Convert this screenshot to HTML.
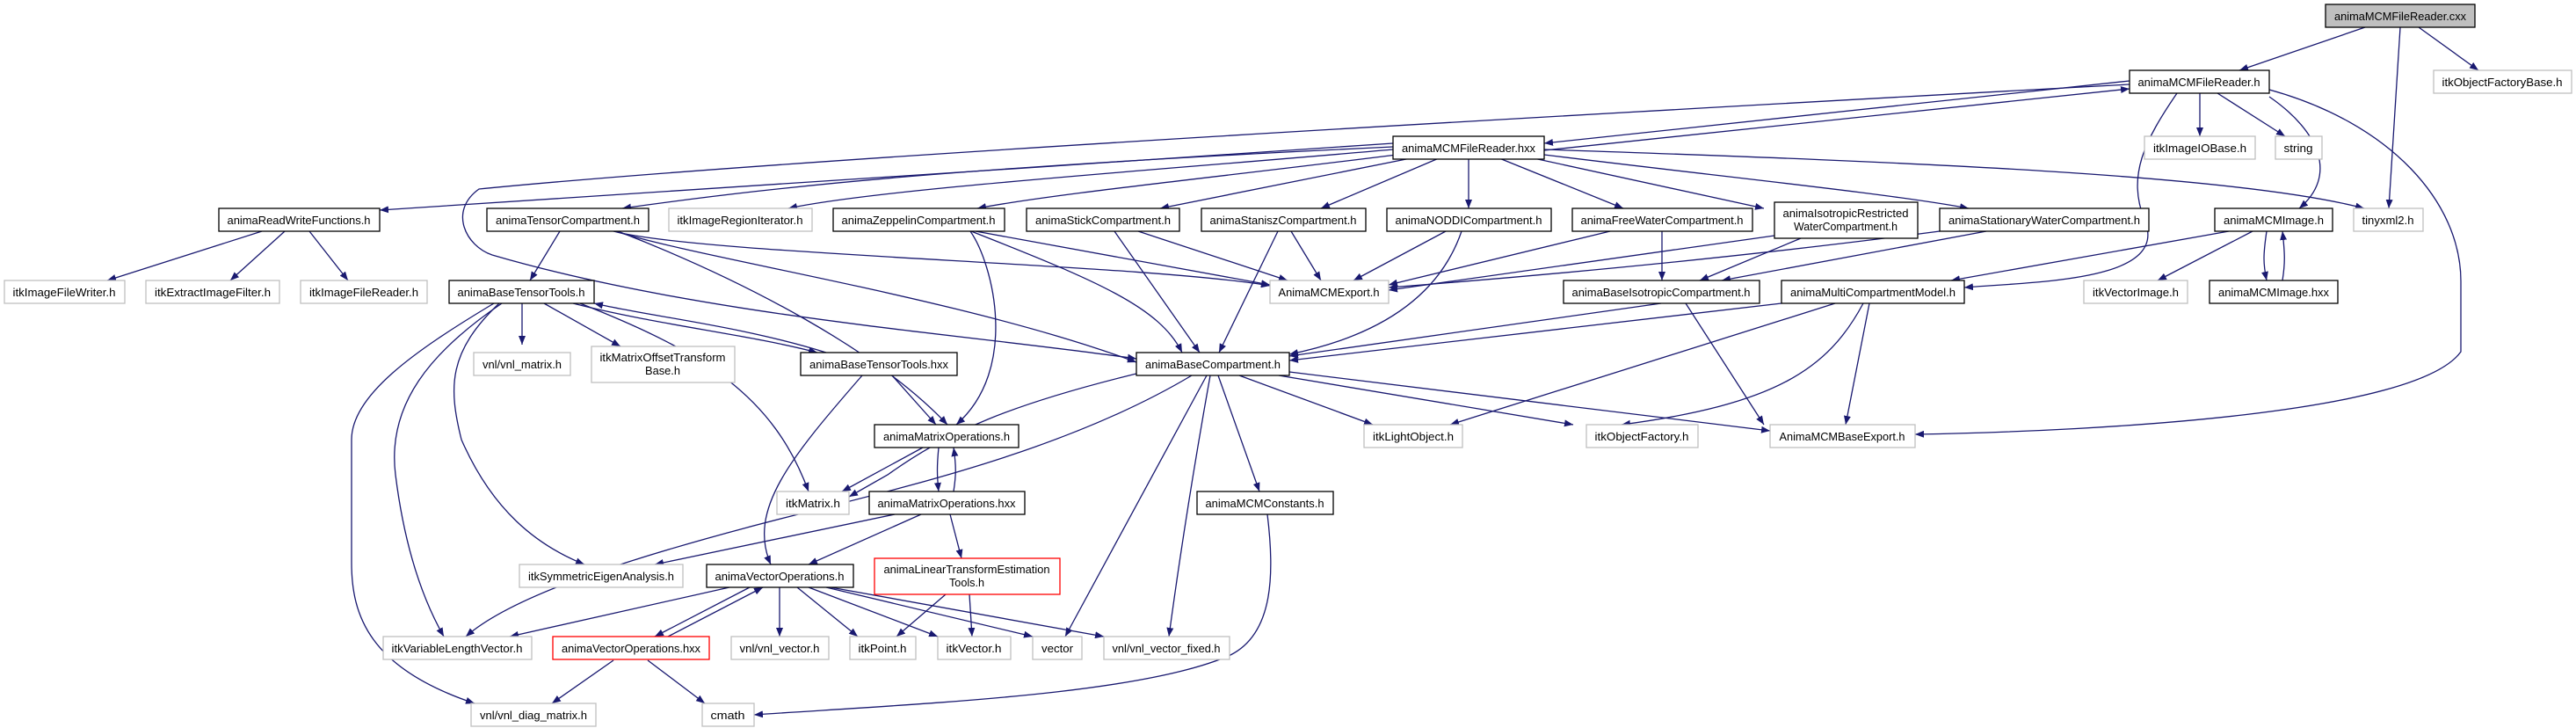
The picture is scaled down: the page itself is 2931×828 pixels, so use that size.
<!DOCTYPE html>
<html><head><meta charset="utf-8"><style>
html,body{margin:0;padding:0;background:#fff}
svg{display:block}
text{font-family:"Liberation Sans",sans-serif;font-size:13px;fill:#000}
.e{fill:none;stroke:#191970;stroke-width:1.3}
.g{fill:#fff;stroke:#bfbfbf;stroke-width:1.3}
.b{fill:#fff;stroke:#000;stroke-width:1.3}
.r{fill:#fff;stroke:#ff0000;stroke-width:1.3}
</style></head><body>
<svg width="2931" height="828" viewBox="0 0 2931 828" xmlns="http://www.w3.org/2000/svg">
<defs><marker id="a" viewBox="0 0 10 8" refX="10" refY="4" markerWidth="10" markerHeight="8" markerUnits="userSpaceOnUse" orient="auto"><path d="M0,0 L10,4 L0,8 z" fill="#191970"/></marker></defs>
<g class="e" marker-end="url(#a)">
<path d="M2691,31 L2548,80"/>
<path d="M2731,31 L2718,237"/>
<path d="M2752,31 L2820,80"/>
<path d="M2503,106 L2503,155"/>
<path d="M2523,106 L2600,155"/>
<path d="M2582,110 C2640,150 2660,200 2616,237"/>
<path d="M2582,102 C2720,140 2800,230 2800,320 L2800,400 C2750,470 2400,490 2179,494"/>
<path d="M2477,106 C2440,160 2420,200 2440,250 C2470,320 2320,320 2235,327"/>
<path d="M2423,92 L1757,163"/>
<path d="M2423,96 C1800,130 900,180 545,215 C510,240 530,280 560,290 C800,360 1100,380 1293,408"/>
<path d="M1757,171 L2423,101"/>
<path d="M1585,163 C1200,190 700,220 432,239"/>
<path d="M1585,167 C1100,190 900,210 708,237"/>
<path d="M1585,170 C1300,195 1000,215 897,237"/>
<path d="M1597,175 C1400,200 1200,220 1112,237"/>
<path d="M1605,180 L1320,237"/>
<path d="M1637,180 L1503,237"/>
<path d="M1671,180 L1671,237"/>
<path d="M1706,180 L1847,237"/>
<path d="M1745,180 L2007,237"/>
<path d="M1757,176 C1950,200 2150,220 2240,237"/>
<path d="M1757,170 C2200,185 2550,200 2690,237"/>
<path d="M298,263 L122,319"/>
<path d="M324,263 L262,319"/>
<path d="M352,263 L396,319"/>
<path d="M637,263 L603,319"/>
<path d="M698,263 C800,290 1300,300 1445,325"/>
<path d="M700,263 C800,295 1100,340 1293,412"/>
<path d="M703,263 C850,320 1000,400 1078,483"/>
<path d="M1104,263 C1130,300 1160,420 1088,483"/>
<path d="M1105,263 C1250,320 1320,350 1345,401"/>
<path d="M1110,263 L1445,324"/>
<path d="M1268,263 L1365,401"/>
<path d="M1295,263 L1465,319"/>
<path d="M1454,263 L1387,401"/>
<path d="M1469,263 L1503,319"/>
<path d="M1645,263 L1540,319"/>
<path d="M1663,263 C1640,330 1580,380 1467,403"/>
<path d="M1832,263 L1580,324"/>
<path d="M1891,263 L1891,319"/>
<path d="M2019,268 L1580,330"/>
<path d="M2049,271 L1934,319"/>
<path d="M2207,263 C2000,290 1800,310 1580,327"/>
<path d="M2260,263 L1959,319"/>
<path d="M1890,345 L1467,405"/>
<path d="M1918,345 L2007,483"/>
<path d="M2027,345 L1467,410"/>
<path d="M2088,345 L1650,483"/>
<path d="M2120,345 C2080,420 2020,460 1845,483"/>
<path d="M2127,345 L2100,483"/>
<path d="M2536,263 L2220,319"/>
<path d="M2563,263 L2455,319"/>
<path d="M2579,263 C2575,290 2575,300 2579,319"/>
<path d="M2597,319 C2600,300 2600,290 2597,263"/>
<path d="M594,345 L594,392"/>
<path d="M619,345 L706,394"/>
<path d="M652,345 C750,370 850,380 930,401"/>
<path d="M940,401 C840,370 740,360 676,345"/>
<path d="M660,345 C800,400 880,450 920,559"/>
<path d="M571,345 C490,400 440,460 450,540 C460,620 480,680 505,724"/>
<path d="M568,345 C510,400 510,440 525,500 C560,580 610,620 665,642"/>
<path d="M562,345 C470,400 400,450 400,500 L400,640 C400,700 420,760 540,800"/>
<path d="M1015,427 L1065,483"/>
<path d="M981,427 C900,520 850,580 877,642"/>
<path d="M1293,425 C1150,460 1080,490 1010,540 L966,565"/>
<path d="M1356,427 C1200,520 1000,560 850,600 C700,640 580,680 530,724"/>
<path d="M1410,427 L1562,483"/>
<path d="M1455,427 L1790,483"/>
<path d="M1467,423 L2014,490"/>
<path d="M1386,427 L1433,559"/>
<path d="M1373,427 L1212,724"/>
<path d="M1377,427 C1355,550 1340,650 1330,724"/>
<path d="M1050,509 L958,559"/>
<path d="M1068,509 C1066,530 1066,540 1068,559"/>
<path d="M1085,559 C1088,540 1088,530 1085,509"/>
<path d="M1018,585 L745,642"/>
<path d="M1048,585 L920,642"/>
<path d="M1081,585 L1094,635"/>
<path d="M830,668 L580,724"/>
<path d="M853,668 L745,724"/>
<path d="M760,724 L868,668"/>
<path d="M887,668 L887,724"/>
<path d="M907,668 L976,724"/>
<path d="M920,668 L1067,724"/>
<path d="M940,668 L1175,724"/>
<path d="M945,668 L1256,724"/>
<path d="M1076,676 L1020,724"/>
<path d="M1103,676 L1106,724"/>
<path d="M698,751 L628,800"/>
<path d="M737,751 L802,800"/>
<path d="M1442,585 C1450,650 1450,720 1400,745 C1300,790 1050,800 858,813"/>
</g>
<g>
<rect x="2646" y="5" width="170" height="26" fill="#bfbfbf" stroke="#000" stroke-width="1.3"/>
<rect class="b" x="2423" y="80" width="159" height="26"/>
<rect class="g" x="2769" y="80" width="157" height="26"/>
<rect class="g" x="2440" y="155" width="126" height="26"/>
<rect class="g" x="2589" y="155" width="53" height="26"/>
<rect class="b" x="1585" y="155" width="172" height="26"/>
<rect class="b" x="249" y="237" width="183" height="26"/>
<rect class="b" x="554" y="237" width="184" height="26"/>
<rect class="g" x="761" y="237" width="163" height="26"/>
<rect class="b" x="948" y="237" width="195" height="26"/>
<rect class="b" x="1168" y="237" width="174" height="26"/>
<rect class="b" x="1367" y="237" width="187" height="26"/>
<rect class="b" x="1578" y="237" width="187" height="26"/>
<rect class="b" x="1789" y="237" width="205" height="26"/>
<rect class="b" x="2019" y="230" width="163" height="41"/>
<rect class="b" x="2207" y="237" width="238" height="26"/>
<rect class="b" x="2520" y="237" width="134" height="26"/>
<rect class="g" x="2678" y="237" width="79" height="26"/>
<rect class="g" x="5" y="319" width="137" height="26"/>
<rect class="g" x="166" y="319" width="152" height="26"/>
<rect class="g" x="342" y="319" width="144" height="26"/>
<rect class="b" x="511" y="319" width="165" height="26"/>
<rect class="g" x="1445" y="319" width="135" height="26"/>
<rect class="b" x="1779" y="319" width="223" height="26"/>
<rect class="b" x="2027" y="319" width="208" height="26"/>
<rect class="g" x="2371" y="319" width="118" height="26"/>
<rect class="b" x="2514" y="319" width="146" height="26"/>
<rect class="g" x="539" y="401" width="110" height="26"/>
<rect class="g" x="673" y="394" width="163" height="41"/>
<rect class="b" x="911" y="401" width="178" height="26"/>
<rect class="b" x="1293" y="401" width="174" height="26"/>
<rect class="b" x="995" y="483" width="164" height="26"/>
<rect class="g" x="1552" y="483" width="112" height="26"/>
<rect class="g" x="1805" y="483" width="127" height="26"/>
<rect class="g" x="2014" y="483" width="165" height="26"/>
<rect class="g" x="884" y="559" width="82" height="26"/>
<rect class="b" x="989" y="559" width="177" height="26"/>
<rect class="b" x="1362" y="559" width="155" height="26"/>
<rect class="g" x="591" y="642" width="186" height="26"/>
<rect class="b" x="804" y="642" width="167" height="26"/>
<rect class="r" x="995" y="635" width="211" height="41"/>
<rect class="g" x="436" y="724" width="169" height="26"/>
<rect class="r" x="629" y="724" width="178" height="26"/>
<rect class="g" x="832" y="724" width="111" height="26"/>
<rect class="g" x="967" y="724" width="75" height="26"/>
<rect class="g" x="1067" y="724" width="83" height="26"/>
<rect class="g" x="1175" y="724" width="56" height="26"/>
<rect class="g" x="1256" y="724" width="143" height="26"/>
<rect class="g" x="536" y="800" width="142" height="26"/>
<rect class="g" x="799" y="800" width="59" height="26"/>
</g>
<g text-anchor="middle" lengthAdjust="spacingAndGlyphs">
<text x="2731" y="23" textLength="150" lengthAdjust="spacingAndGlyphs">animaMCMFileReader.cxx</text>
<text x="2502" y="98" textLength="139" lengthAdjust="spacingAndGlyphs">animaMCMFileReader.h</text>
<text x="2847" y="98" textLength="137" lengthAdjust="spacingAndGlyphs">itkObjectFactoryBase.h</text>
<text x="2503" y="173" textLength="106" lengthAdjust="spacingAndGlyphs">itkImageIOBase.h</text>
<text x="2615" y="173" textLength="33" lengthAdjust="spacingAndGlyphs">string</text>
<text x="1671" y="173" textLength="152" lengthAdjust="spacingAndGlyphs">animaMCMFileReader.hxx</text>
<text x="340" y="255" textLength="163" lengthAdjust="spacingAndGlyphs">animaReadWriteFunctions.h</text>
<text x="646" y="255" textLength="164" lengthAdjust="spacingAndGlyphs">animaTensorCompartment.h</text>
<text x="842" y="255" textLength="143" lengthAdjust="spacingAndGlyphs">itkImageRegionIterator.h</text>
<text x="1045" y="255" textLength="175" lengthAdjust="spacingAndGlyphs">animaZeppelinCompartment.h</text>
<text x="1255" y="255" textLength="154" lengthAdjust="spacingAndGlyphs">animaStickCompartment.h</text>
<text x="1460" y="255" textLength="167" lengthAdjust="spacingAndGlyphs">animaStaniszCompartment.h</text>
<text x="1671" y="255" textLength="167" lengthAdjust="spacingAndGlyphs">animaNODDICompartment.h</text>
<text x="1891" y="255" textLength="185" lengthAdjust="spacingAndGlyphs">animaFreeWaterCompartment.h</text>
<text x="2100" y="247" textLength="143" lengthAdjust="spacingAndGlyphs">animaIsotropicRestricted</text>
<text x="2100" y="262" textLength="118" lengthAdjust="spacingAndGlyphs">WaterCompartment.h</text>
<text x="2326" y="255" textLength="218" lengthAdjust="spacingAndGlyphs">animaStationaryWaterCompartment.h</text>
<text x="2587" y="255" textLength="114" lengthAdjust="spacingAndGlyphs">animaMCMImage.h</text>
<text x="2717" y="255" textLength="59" lengthAdjust="spacingAndGlyphs">tinyxml2.h</text>
<text x="73" y="337" textLength="117" lengthAdjust="spacingAndGlyphs">itkImageFileWriter.h</text>
<text x="242" y="337" textLength="132" lengthAdjust="spacingAndGlyphs">itkExtractImageFilter.h</text>
<text x="414" y="337" textLength="124" lengthAdjust="spacingAndGlyphs">itkImageFileReader.h</text>
<text x="593" y="337" textLength="145" lengthAdjust="spacingAndGlyphs">animaBaseTensorTools.h</text>
<text x="1512" y="337" textLength="115" lengthAdjust="spacingAndGlyphs">AnimaMCMExport.h</text>
<text x="1890" y="337" textLength="203" lengthAdjust="spacingAndGlyphs">animaBaseIsotropicCompartment.h</text>
<text x="2131" y="337" textLength="188" lengthAdjust="spacingAndGlyphs">animaMultiCompartmentModel.h</text>
<text x="2430" y="337" textLength="98" lengthAdjust="spacingAndGlyphs">itkVectorImage.h</text>
<text x="2587" y="337" textLength="126" lengthAdjust="spacingAndGlyphs">animaMCMImage.hxx</text>
<text x="594" y="419" textLength="90" lengthAdjust="spacingAndGlyphs">vnl/vnl_matrix.h</text>
<text x="754" y="411" textLength="143" lengthAdjust="spacingAndGlyphs">itkMatrixOffsetTransform</text>
<text x="754" y="426" textLength="40" lengthAdjust="spacingAndGlyphs">Base.h</text>
<text x="1000" y="419" textLength="158" lengthAdjust="spacingAndGlyphs">animaBaseTensorTools.hxx</text>
<text x="1380" y="419" textLength="154" lengthAdjust="spacingAndGlyphs">animaBaseCompartment.h</text>
<text x="1077" y="501" textLength="144" lengthAdjust="spacingAndGlyphs">animaMatrixOperations.h</text>
<text x="1608" y="501" textLength="92" lengthAdjust="spacingAndGlyphs">itkLightObject.h</text>
<text x="1868" y="501" textLength="107" lengthAdjust="spacingAndGlyphs">itkObjectFactory.h</text>
<text x="2096" y="501" textLength="143" lengthAdjust="spacingAndGlyphs">AnimaMCMBaseExport.h</text>
<text x="925" y="577" textLength="62" lengthAdjust="spacingAndGlyphs">itkMatrix.h</text>
<text x="1077" y="577" textLength="157" lengthAdjust="spacingAndGlyphs">animaMatrixOperations.hxx</text>
<text x="1439" y="577" textLength="135" lengthAdjust="spacingAndGlyphs">animaMCMConstants.h</text>
<text x="684" y="660" textLength="166" lengthAdjust="spacingAndGlyphs">itkSymmetricEigenAnalysis.h</text>
<text x="887" y="660" textLength="147" lengthAdjust="spacingAndGlyphs">animaVectorOperations.h</text>
<text x="1100" y="652" textLength="189" lengthAdjust="spacingAndGlyphs">animaLinearTransformEstimation</text>
<text x="1100" y="667" textLength="40" lengthAdjust="spacingAndGlyphs">Tools.h</text>
<text x="520" y="742" textLength="149" lengthAdjust="spacingAndGlyphs">itkVariableLengthVector.h</text>
<text x="718" y="742" textLength="158" lengthAdjust="spacingAndGlyphs">animaVectorOperations.hxx</text>
<text x="887" y="742" textLength="91" lengthAdjust="spacingAndGlyphs">vnl/vnl_vector.h</text>
<text x="1004" y="742" textLength="55" lengthAdjust="spacingAndGlyphs">itkPoint.h</text>
<text x="1108" y="742" textLength="63" lengthAdjust="spacingAndGlyphs">itkVector.h</text>
<text x="1203" y="742" textLength="36" lengthAdjust="spacingAndGlyphs">vector</text>
<text x="1327" y="742" textLength="123" lengthAdjust="spacingAndGlyphs">vnl/vnl_vector_fixed.h</text>
<text x="607" y="818" textLength="122" lengthAdjust="spacingAndGlyphs">vnl/vnl_diag_matrix.h</text>
<text x="828" y="818" textLength="39" lengthAdjust="spacingAndGlyphs">cmath</text>
</g>
</svg>
</body></html>
